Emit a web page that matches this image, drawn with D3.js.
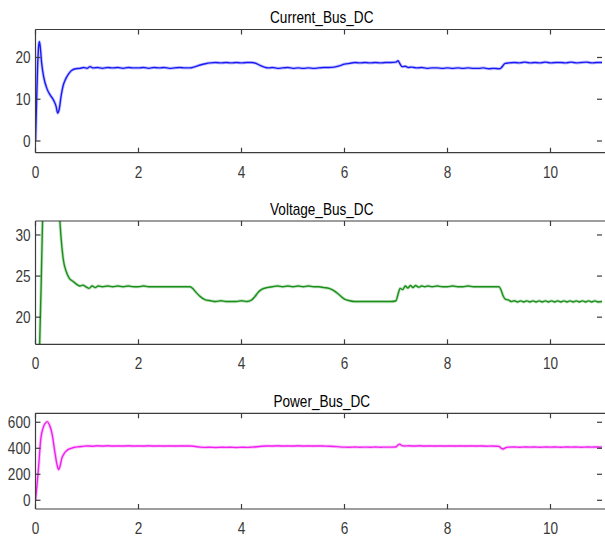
<!DOCTYPE html>
<html>
<head>
<meta charset="utf-8">
<script src="https://cdn.jsdelivr.net/npm/d3@7"></script>
<style>
  html, body { margin: 0; padding: 0; background: #fff; }
  svg { display: block; }
  .tick-label { font-family: "Liberation Sans", Arial, sans-serif; font-size: 16px; fill: #3a3a3a; }
  .title { font-family: "Liberation Sans", Arial, sans-serif; font-size: 16px; fill: #000; }
</style>
</head>
<body>
<svg id="chart" width="605" height="539"></svg>
<script>
// Time axis ticks shared by all three panels (seconds)
const timeTicks = [0, 2, 4, 6, 8, 10];

// DC bus current [t, A]
const currentData = [
  [0.00,0.0],[0.02,9.0],[0.04,17.5],[0.06,22.6],[0.075,23.8],[0.09,22.8],[0.12,18.6],[0.16,15.3],
  [0.22,12.6],[0.28,11.1],[0.35,9.8],[0.40,8.3],[0.43,6.7],[0.46,7.6],[0.50,11.0],[0.54,13.4],
  [0.58,14.7],[0.64,16.0],[0.70,16.9],[0.78,17.3],[0.86,17.4],[0.94,17.6],[1.00,17.4],[1.06,17.8],
  [1.12,17.5],[1.2,17.6],[1.3,17.4],[1.4,17.6],[1.5,17.5],[1.6,17.6],[1.7,17.4],[1.8,17.6],
  [1.9,17.5],[2.0,17.5],[2.1,17.6],[2.2,17.4],[2.3,17.6],[2.4,17.5],[2.5,17.6],[2.6,17.4],
  [2.7,17.5],[2.8,17.6],[2.9,17.5],[3.0,17.5],[3.1,17.8],[3.2,18.2],[3.3,18.5],[3.4,18.7],
  [3.5,18.8],[3.6,18.7],[3.7,18.8],[3.8,18.7],[3.9,18.8],[4.0,18.7],[4.1,18.8],[4.2,18.8],
  [4.28,18.6],[4.36,18.1],[4.44,17.7],[4.52,17.5],[4.6,17.6],[4.7,17.4],[4.8,17.5],[4.9,17.6],
  [5.0,17.4],[5.1,17.5],[5.2,17.4],[5.3,17.5],[5.4,17.4],[5.5,17.5],[5.6,17.6],[5.7,17.6],
  [5.8,17.7],[5.9,18.0],[6.0,18.4],[6.1,18.6],[6.2,18.8],[6.3,18.7],[6.4,18.8],[6.5,18.7],
  [6.6,18.8],[6.7,18.7],[6.8,18.8],[6.9,18.8],[7.0,18.9],[7.04,19.2],[7.08,18.4],[7.12,17.8],
  [7.18,17.9],[7.24,17.6],[7.3,17.7],[7.4,17.5],[7.5,17.6],[7.6,17.4],[7.7,17.5],[7.8,17.5],
  [7.9,17.4],[8.0,17.5],[8.1,17.4],[8.2,17.5],[8.3,17.4],[8.4,17.5],[8.5,17.4],[8.6,17.4],
  [8.7,17.5],[8.8,17.3],[8.9,17.4],[9.0,17.3],[9.04,17.5],[9.08,18.1],[9.12,18.6],[9.2,18.7],
  [9.3,18.8],[9.4,18.7],[9.5,18.9],[9.6,18.7],[9.7,18.8],[9.8,18.7],[9.9,18.9],[10.0,18.7],
  [10.1,18.8],[10.2,18.8],[10.3,18.7],[10.4,18.9],[10.5,18.7],[10.6,18.8],[10.7,18.9],[10.8,18.7],
  [10.9,18.8],[11.0,18.8]
];

// DC bus voltage [t, V]
const voltageData = [
  [0.00,0.0],[0.04,6.0],[0.08,16.6],[0.11,24.0],[0.14,32.5],[0.18,40.0],[0.24,47.0],[0.30,47.5],
  [0.36,43.0],[0.42,37.0],[0.47,32.0],[0.50,29.4],[0.54,27.0],[0.60,25.5],[0.66,24.7],[0.72,24.4],
  [0.80,24.0],[0.86,23.8],[0.92,23.9],[0.98,23.7],[1.04,23.5],[1.10,23.8],[1.16,23.6],[1.22,23.8],
  [1.3,23.7],[1.4,23.8],[1.5,23.7],[1.6,23.8],[1.7,23.7],[1.8,23.8],[1.9,23.7],[2.0,23.7],
  [2.1,23.8],[2.2,23.7],[2.3,23.7],[2.4,23.7],[2.5,23.7],[2.6,23.7],[2.7,23.7],[2.8,23.7],
  [2.9,23.7],[3.0,23.7],[3.05,23.5],[3.12,23.0],[3.2,22.5],[3.3,22.1],[3.4,22.0],[3.5,21.9],
  [3.6,22.0],[3.7,21.9],[3.8,21.9],[3.9,21.9],[4.0,22.0],[4.1,21.9],[4.2,22.1],[4.26,22.5],
  [4.32,23.0],[4.4,23.4],[4.5,23.6],[4.6,23.7],[4.7,23.8],[4.8,23.7],[4.9,23.8],[5.0,23.7],
  [5.1,23.8],[5.2,23.7],[5.3,23.8],[5.4,23.7],[5.5,23.7],[5.6,23.6],[5.7,23.5],[5.8,23.2],
  [5.9,22.7],[6.0,22.2],[6.1,22.0],[6.2,21.9],[6.3,21.9],[6.4,21.9],[6.5,21.9],[6.6,21.9],
  [6.7,21.9],[6.8,21.9],[6.9,21.9],[7.0,22.0],[7.04,22.8],[7.08,23.5],[7.13,23.35],[7.18,23.8],
  [7.23,23.55],[7.28,23.85],[7.33,23.6],[7.38,23.85],[7.44,23.65],[7.5,23.8],[7.56,23.7],[7.62,23.8],
  [7.7,23.7],[7.8,23.8],[7.9,23.7],[8.0,23.7],[8.1,23.8],[8.2,23.7],[8.3,23.7],[8.4,23.8],
  [8.5,23.7],[8.6,23.7],[8.7,23.7],[8.8,23.7],[8.9,23.7],[9.0,23.7],[9.04,23.3],[9.08,22.6],
  [9.12,22.2],[9.18,22.1],[9.24,21.9],[9.3,22.0],[9.36,21.85],[9.42,21.98],[9.48,21.85],[9.54,21.98],
  [9.6,21.85],[9.66,21.98],[9.72,21.85],[9.78,21.98],[9.84,21.85],[9.9,21.98],[9.96,21.85],[10.02,21.98],
  [10.08,21.85],[10.14,21.98],[10.2,21.85],[10.26,21.98],[10.32,21.85],[10.38,21.98],[10.44,21.85],[10.5,21.98],
  [10.56,21.85],[10.62,21.98],[10.68,21.85],[10.74,21.98],[10.8,21.85],[10.86,21.98],[10.92,21.85],[11.0,21.9]
];

// DC bus power [t, W]
const powerData = [
  [0.00,0],[0.03,120],[0.06,256],[0.10,463],[0.15,560],[0.19,592],[0.23,605],[0.27,580],
  [0.32,515],[0.38,360],[0.42,270],[0.45,236],[0.48,268],[0.51,322],[0.55,355],[0.58,372],
  [0.63,390],[0.68,398],[0.76,408],[0.84,412],[0.92,415],[1.0,418],[1.1,416],[1.2,419],
  [1.3,417],[1.4,419],[1.5,417],[1.6,418],[1.7,417],[1.8,419],[1.9,417],[2.0,418],
  [2.1,417],[2.2,419],[2.3,417],[2.4,418],[2.5,417],[2.6,418],[2.7,417],[2.8,418],
  [2.9,418],[3.0,418],[3.1,414],[3.2,409],[3.3,407],[3.4,408],[3.5,406],[3.6,408],
  [3.7,407],[3.8,408],[3.9,406],[4.0,408],[4.1,407],[4.2,409],[4.3,412],[4.4,416],
  [4.5,418],[4.6,417],[4.7,419],[4.8,417],[4.9,418],[5.0,417],[5.1,419],[5.2,417],
  [5.3,418],[5.4,417],[5.5,418],[5.6,417],[5.7,416],[5.8,414],[5.9,411],[6.0,409],
  [6.1,408],[6.2,410],[6.3,408],[6.4,409],[6.5,408],[6.6,410],[6.7,408],[6.8,409],
  [6.9,409],[7.0,410],[7.04,426],[7.07,432],[7.11,421],[7.16,418],[7.25,419],[7.35,417],
  [7.45,419],[7.55,417],[7.65,418],[7.75,417],[7.85,418],[7.95,417],[8.05,418],[8.15,417],
  [8.25,418],[8.35,417],[8.45,418],[8.55,417],[8.65,418],[8.75,416],[8.85,417],[8.95,416],
  [9.0,415],[9.04,401],[9.08,394],[9.12,403],[9.18,409],[9.3,410],[9.4,408],[9.5,410],
  [9.6,409],[9.7,410],[9.8,408],[9.9,410],[10.0,409],[10.1,410],[10.2,408],[10.3,410],
  [10.4,409],[10.5,410],[10.6,408],[10.7,410],[10.8,409],[10.9,410],[11.0,409]
];

const currentTicks = [0, 10, 20];
const voltageTicks = [20, 25, 30];
const powerTicks = [0, 200, 400, 600];

const panels = [
  { title: "Current_Bus_DC", data: currentData, yDomain: [-2.8, 26.7], yTicks: currentTicks,
    color: "#1a1af5", top: 29.5, bottom: 152.7 },
  { title: "Voltage_Bus_DC", data: voltageData, yDomain: [16.7, 31.7], yTicks: voltageTicks,
    color: "#1a8f1a", top: 221, bottom: 344.3 },
  { title: "Power_Bus_DC", data: powerData, yDomain: [-67, 669], yTicks: powerTicks,
    color: "#f020f0", top: 413.3, bottom: 509 }
];

const svg = d3.select("#chart");
const left = 35.5, right = 602, frameRight = 606;
const x = d3.scaleLinear().domain([0, 11]).range([left, right]);
const tickLen = 5;
const axisColor = "#3c3c3c";
const squeeze = 0.85; // condensed lettering

// place a horizontally condensed text label at (px, py)
function label(g, cls, px, py, anchor, txt, dy) {
  return g.append("text").attr("class", cls)
    .attr("transform", `translate(${px},${py}) scale(${squeeze},1)`)
    .attr("text-anchor", anchor).attr("dy", dy || 0).text(txt);
}

panels.forEach((p, i) => {
  const y = d3.scaleLinear().domain(p.yDomain).range([p.bottom, p.top]);
  const g = svg.append("g");

  // clip so off-scale portions of the trace are hidden
  const clipId = "clip" + i;
  svg.append("clipPath").attr("id", clipId).append("rect")
    .attr("x", left).attr("y", p.top).attr("width", frameRight - left).attr("height", p.bottom - p.top);

  const line = d3.line().x(d => x(d[0])).y(d => y(d[1])).curve(d3.curveMonotoneX);

  // soft halo from switching ripple, then the trace
  g.append("path").datum(p.data).attr("clip-path", `url(#${clipId})`)
    .attr("d", line).attr("fill", "none").attr("stroke", p.color)
    .attr("stroke-opacity", 0.25).attr("stroke-width", 3.2).attr("stroke-linejoin", "round");
  g.append("path").datum(p.data).attr("clip-path", `url(#${clipId})`)
    .attr("d", line).attr("fill", "none").attr("stroke", p.color)
    .attr("stroke-width", 1.4).attr("stroke-linejoin", "round");

  // frame: top, bottom, left (right edge runs off the canvas)
  const fr = g.append("g").attr("stroke", axisColor).attr("stroke-width", 1.2).attr("fill", "none");
  fr.append("line").attr("x1", left).attr("x2", frameRight).attr("y1", p.top).attr("y2", p.top);
  fr.append("line").attr("x1", left).attr("x2", frameRight).attr("y1", p.bottom).attr("y2", p.bottom);
  fr.append("line").attr("x1", left).attr("x2", left).attr("y1", p.top).attr("y2", p.bottom);

  // x ticks (bottom and mirrored top), pointing inward
  timeTicks.forEach(t => {
    fr.append("line").attr("x1", x(t)).attr("x2", x(t)).attr("y1", p.bottom).attr("y2", p.bottom - tickLen);
    fr.append("line").attr("x1", x(t)).attr("x2", x(t)).attr("y1", p.top).attr("y2", p.top + tickLen);
    label(g, "tick-label", x(t), p.bottom + 25, "middle", d3.format("d")(t));
  });

  // y ticks (left and mirrored right)
  p.yTicks.forEach(v => {
    fr.append("line").attr("x1", left).attr("x2", left + tickLen).attr("y1", y(v)).attr("y2", y(v));
    fr.append("line").attr("x1", right).attr("x2", right - tickLen).attr("y1", y(v)).attr("y2", y(v));
    label(g, "tick-label", left - 5, y(v), "end", v, "0.35em");
  });

  label(g, "title", (left + frameRight) / 2 + 1, p.top - 6.5, "middle", p.title);
});
</script>
</body>
</html>
